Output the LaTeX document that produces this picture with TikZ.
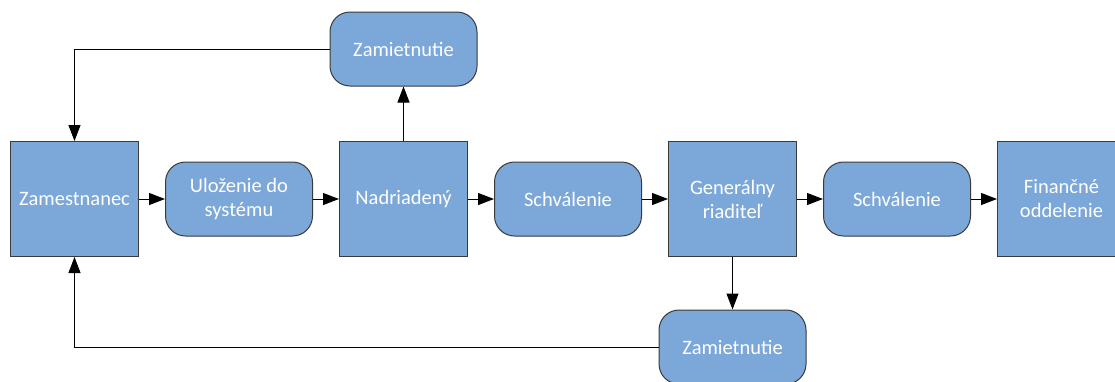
\documentclass[tikz,border=0pt]{standalone}
\usepackage{fontspec}
\setmainfont{Carlito}
\usetikzlibrary{positioning,arrows.meta}
\definecolor{boxblue}{HTML}{7BA7D9}
\definecolor{boxline}{HTML}{3A3A3A}

\begin{document}
\begin{tikzpicture}[
  x = 1pt, y = -1pt,
  every node/.style = {draw = boxline, fill = boxblue, text = white, align = center,
                       line width = 1pt, font = \fontsize{20.5}{24}\selectfont},
  role/.style = {minimum width = 128pt, minimum height = 115pt},
  stage/.style = {rounded corners = 20pt, minimum width = 147pt, minimum height = 74pt},
  flow/.style = {-{Triangle[length = 16pt, width = 12pt]}, line width = 1pt},
  node distance = 26pt,
  ]
  \useasboundingbox (0,0) rectangle (1115,381);
  % main row
  \node[role] (empl) at (74.5,199) {Zamestnanec};
  \node[stage, right = of empl] (store) {Uloženie do\\systému};
  \node[role, right = of store] (boss) {Nadriadený};
  \node[stage, right = of boss] (ok1) {Schválenie};
  \node[role, right = of ok1] (gm) {Generálny\\riaditeľ};
  \node[stage, right = of gm] (ok2) {Schválenie};
  \node[role, right = of ok2] (fin) {Finančné\\oddelenie};
  % rejections
  \node[stage] (rej1) at (boss |- 0,49) {Zamietnutie};
  \node[stage] (rej2) at (gm |- 0,347) {Zamietnutie};

  \draw[flow] (empl) -- (store);
  \draw[flow] (store) -- (boss);
  \draw[flow] (boss) -- (ok1);
  \draw[flow] (ok1) -- (gm);
  \draw[flow] (gm) -- (ok2);
  \draw[flow] (ok2) -- (fin);
  \draw[flow] (boss) -- (rej1);
  \draw[flow] (gm) -- (rej2);
  \draw[flow] (rej1.west) -| (empl.north);
  \draw[flow] (rej2.west) -| (empl.south);
\end{tikzpicture}
\end{document}
